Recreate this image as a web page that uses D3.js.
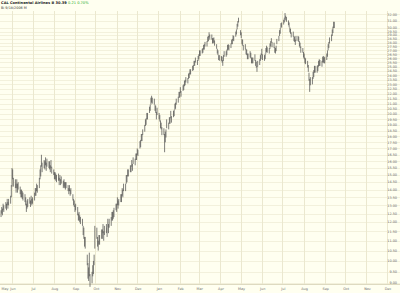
<!DOCTYPE html>
<html>
<head>
<meta charset="utf-8">
<script src="https://cdn.jsdelivr.net/npm/d3@7"></script>
<style>
  body { margin: 0; background: #fffff0; }
  svg { display: block; }
  text { font-family: "DejaVu Sans", sans-serif; }
</style>
</head>
<body>
<svg id="chart" width="400" height="293"></svg>
<script>
// daily bars, one per weekday from this date
const firstDay = new Date(2005, 4, 16);

const lows = [
  12.3,12.5,12.4,12.7,12.6, 12.8,12.7,13.0,12.8,13.0, 13.1,13.5,14.2,14.7,14.2, 14.1,13.8,14.1,13.8,14.0,
  13.7,13.5,13.5,13.4,13.3, 13.2,13.0,12.6,12.8,12.9, 13.1,12.9,13.1,13.0,13.1, 13.3,13.6,13.6,13.9,13.8,
  14.1,14.7,14.9,15.6,15.2, 15.5,15.4,15.7,15.3,15.6, 15.5,15.4,15.2,15.5,15.1, 15.0,14.7,14.7,14.6,14.5,
  14.6,14.3,14.6,14.3,14.4, 14.1,14.2,14.1,14.0,14.1, 13.9,13.7,13.9,13.6,13.7, 13.3,13.0,12.9,12.6,12.7,
  12.4,12.1,12.1,12.0,11.9, 11.8,11.3,11.1,10.7,10.6, 9.8,9.2,9.1,9.3,8.85, 9.0,9.3,9.4,9.8,10.6,
  11.1,10.7,10.5,10.8,10.8, 11.1,11.1,11.4,11.0,11.3, 11.4,11.2,11.7,11.4,11.7, 11.8,12.1,12.1,12.2,12.3,
  12.7,12.6,13.0,12.8,13.0, 13.2,13.2,13.6,13.5,13.9, 13.9,14.4,14.5,14.9,14.9, 15.2,15.2,15.6,15.3,15.8,
  15.7,16.1,16.1,16.5,16.4, 17.0,17.1,17.6,17.6,18.1, 18.4,18.9,19.0,19.5,19.5, 20.1,20.3,20.9,21.1,21.0,
  20.9,20.3,20.1,19.5,19.9, 19.5,19.3,18.7,18.6,18.1, 18.1,16.7,17.5,17.9,18.7, 18.6,19.1,19.1,19.6,19.2,
  19.7,19.8,20.4,20.5,20.9, 21.1,21.6,21.6,22.1,21.7, 22.3,22.4,22.8,22.9,23.2, 23.1,23.6,23.7,24.1,24.1,
  24.5,24.6,25.1,25.1,25.5, 25.2,25.7,25.9,26.3,26.3, 26.6,26.7,27.1,27.1,27.5, 27.5,28.1,28.2,28.7,28.4,
  28.4,27.9,27.9,28.0,27.6, 27.2,26.6,26.4,25.8,25.7, 25.7,25.5,25.1,25.7,26.2, 26.2,26.4,27.0,27.1,27.0,
  27.3,27.8,27.8,28.3,28.2, 28.8,29.1,29.8,30.2,30.8, 29.0,28.6,27.8,27.6,27.0, 27.1,26.5,26.4,25.9,25.9,
  26.1,26.0,25.4,25.4,25.4, 25.7,25.1,24.9,24.4,25.0, 25.2,25.7,25.9,26.4,25.8, 25.7,25.9,26.6,26.8,26.7,
  26.6,27.2,27.5,28.0,27.4, 27.3,26.7,26.6,26.9,27.8, 28.2,28.9,29.2,30.0,30.1, 30.5,30.8,31.4,31.1,30.9,
  30.4,30.1,29.4,29.2,28.7, 28.8,28.2,28.1,27.7,28.2, 28.2,28.1,27.5,27.3,26.7, 26.7,26.1,25.9,25.4,25.3,
  24.9,24.4,23.4,22.2,22.9, 23.0,23.6,23.8,24.3,24.3, 24.3,24.5,25.0,25.1,25.1, 25.0,25.5,25.5,25.4,25.4,
  25.8,26.2,27.0,27.3,27.9, 28.2,28.9,29.3,30.0,30.0
];
const highs = [
  12.7,12.9,12.8,13.1,13.0, 13.2,13.1,13.4,13.2,13.4, 13.6,14.3,15.5,15.4,14.8, 14.7,14.4,14.7,14.4,14.5,
  14.2,14.0,14.0,13.9,13.8, 13.7,13.5,13.1,13.3,13.4, 13.5,13.3,13.6,13.4,13.5, 13.8,14.1,14.1,14.4,14.3,
  14.8,15.4,15.7,16.5,15.9, 16.1,16.0,16.3,15.9,16.2, 16.0,16.0,15.7,16.1,15.6, 15.4,15.2,15.2,15.1,15.0,
  15.1,14.8,15.0,14.7,14.9, 14.6,14.7,14.5,14.5,14.5, 14.3,14.1,14.3,14.0,14.1, 13.7,13.4,13.3,13.0,13.1,
  12.9,12.5,12.6,12.4,12.3, 12.2,11.8,11.7,11.2,11.2, 10.3,9.9,9.7,10.4,9.4, 9.5,9.8,10.0,10.3,11.8,
  11.7,11.2,11.0,11.3,11.3, 11.6,11.6,11.9,11.5,11.8, 11.9,11.7,12.2,11.9,12.2, 12.3,12.6,12.6,12.7,12.85,
  13.1,13.1,13.5,13.3,13.4, 13.7,13.7,14.1,14.0,14.4, 14.4,15.0,15.0,15.4,15.4, 15.7,15.7,16.1,15.8,16.3,
  16.2,16.6,16.6,17.0,16.9, 17.6,17.7,18.2,18.2,18.6, 19.0,19.5,19.6,20.1,20.1, 20.7,20.9,21.6,21.8,21.6,
  21.5,20.9,20.8,20.2,20.6, 20.1,19.9,19.4,19.2,18.8, 18.7,18.2,18.4,18.6,19.5, 19.2,19.7,19.7,20.3,19.8,
  20.3,20.4,21.0,21.1,21.5, 21.7,22.2,22.2,22.7,22.3, 22.9,23.0,23.4,23.5,23.8, 23.7,24.2,24.3,24.7,24.7,
  25.1,25.2,25.7,25.7,26.1, 25.8,26.3,26.5,27.0,27.0, 27.2,27.3,27.7,27.8,28.1, 28.2,28.8,28.9,29.4,29.1,
  29.1,28.6,28.6,28.7,28.3, 27.8,27.2,27.0,26.4,26.4, 26.3,26.2,25.8,26.4,26.9, 26.9,27.1,27.7,27.8,27.7,
  27.9,28.4,28.5,29.0,28.9, 29.5,29.8,30.6,31.0,31.5, 29.7,29.4,28.5,28.4,27.7, 27.8,27.2,27.1,26.6,26.6,
  26.9,26.7,26.1,26.1,26.1, 26.5,25.8,25.6,25.1,25.7, 25.9,26.4,26.6,27.2,26.5, 26.4,26.6,27.3,27.6,27.4,
  27.3,27.9,28.2,28.6,28.1, 28.0,27.4,27.3,27.6,28.5, 28.9,29.7,30.0,30.7,30.8, 31.2,31.5,32.2,31.8,31.6,
  31.1,30.8,30.1,29.9,29.4, 29.5,28.9,28.8,28.4,28.9, 28.9,28.8,28.2,28.0,27.5, 27.3,26.8,26.6,26.1,26.0,
  25.7,25.2,24.3,23.6,23.8, 23.8,24.4,24.6,25.1,25.1, 25.1,25.2,25.7,25.9,25.8, 25.7,26.2,26.3,26.1,26.2,
  26.6,27.0,27.8,28.1,28.7, 29.1,29.8,30.2,30.9,30.9
];

const priceTicks = [32, 31, 30, 29.5, 29, 28.5, 28, 27.5, 27, 26.5, 26, 25.5, 25, 24.5, 24,
  23.5, 23, 22.5, 22, 21.5, 21, 20.5, 20, 19.5, 19, 18.5, 18, 17.5, 17, 16.5, 16, 15.5, 15,
  14.5, 14, 13.5, 13, 12.5, 12, 11.5, 11, 10.5, 10, 9.5, 9];
const monthNames = ["Jan","Feb","Mar","Apr","May","Jun","Jul","Aug","Sep","Oct","Nov","Dec"];

const symbol = "CAL Continental Airlines B";
const lastPrice = "30.39";
const change = "0.21";
const changePct = "0.70%";
const subLine = "Bi 9/18/2006 M";

// weekdays for the bars
const days = [];
let d = new Date(firstDay);
while (days.length < lows.length) {
    if (d.getDay() % 6 !== 0) days.push(new Date(d));
    d.setDate(d.getDate() + 1);
}
const bars = days.map((t, i) => ({ date: t, low: lows[i], high: highs[i] }));

const W = 400, H = 293;
const plotTop = 11, plotBottom = 284;
const x = d3.scaleTime().domain([new Date(2005, 5, 1), new Date(2006, 11, 1)]).range([12, 387]);
const y = d3.scaleLog().domain([20, 30]).range([114, 28.04]);

const svg = d3.select("#chart");
svg.append("rect").attr("width", W).attr("height", H).attr("fill", "#fffff0");

// horizontal grid
svg.append("g").selectAll("line").data(priceTicks).enter().append("line")
    .attr("x1", 0).attr("x2", W)
    .attr("y1", p => Math.round(y(p)) + 0.5).attr("y2", p => Math.round(y(p)) + 0.5)
    .attr("stroke", "#f3f1dc").attr("stroke-width", 1);

// month grid
const months = d3.timeMonth.range(new Date(2005, 4, 1), new Date(2007, 0, 1));
svg.append("g").selectAll("line").data(months).enter().append("line")
    .attr("x1", m => Math.round(x(m)) + 0.5).attr("x2", m => Math.round(x(m)) + 0.5)
    .attr("y1", plotTop).attr("y2", plotBottom)
    .attr("stroke", "#ebe8cf").attr("stroke-width", 1);

// bottom axis line
svg.append("line").attr("x1", 0).attr("x2", W).attr("y1", plotBottom + 0.5).attr("y2", plotBottom + 0.5)
    .attr("stroke", "#dedac0");

// bars
svg.append("g").selectAll("line").data(bars).enter().append("line")
    .attr("x1", b => x(b.date)).attr("x2", b => x(b.date))
    .attr("y1", b => y(b.low)).attr("y2", b => y(b.high))
    .attr("stroke", "#474747").attr("stroke-width", 0.7);

// right price labels
svg.append("g").selectAll("text").data(priceTicks).enter().append("text")
    .attr("x", 397).attr("y", p => y(p) + 1.2)
    .attr("text-anchor", "end")
    .attr("font-size", 3.4).attr("fill", "#6e6e6e")
    .text(p => p.toFixed(2));

// month labels
svg.append("g").selectAll("text").data(months).enter().append("text")
    .attr("x", m => Math.max(5, x(m) + 1)).attr("y", 290)
    .attr("text-anchor", "middle")
    .attr("font-size", 3.4).attr("fill", "#6e6e6e")
    .text(m => monthNames[m.getMonth()]);

// header
const head = svg.append("text").attr("x", 1).attr("y", 4.2).attr("font-size", 3.6);
head.append("tspan").attr("font-weight", "bold").attr("fill", "#222").text(symbol + "  ");
head.append("tspan").attr("font-weight", "bold").attr("fill", "#222").text(lastPrice + "  ");
head.append("tspan").attr("fill", "#22aa22").text(change + "  " + changePct);
svg.append("text").attr("x", 1).attr("y", 9).attr("font-size", 3.4).attr("fill", "#333").text(subLine);
</script>
</body>
</html>
